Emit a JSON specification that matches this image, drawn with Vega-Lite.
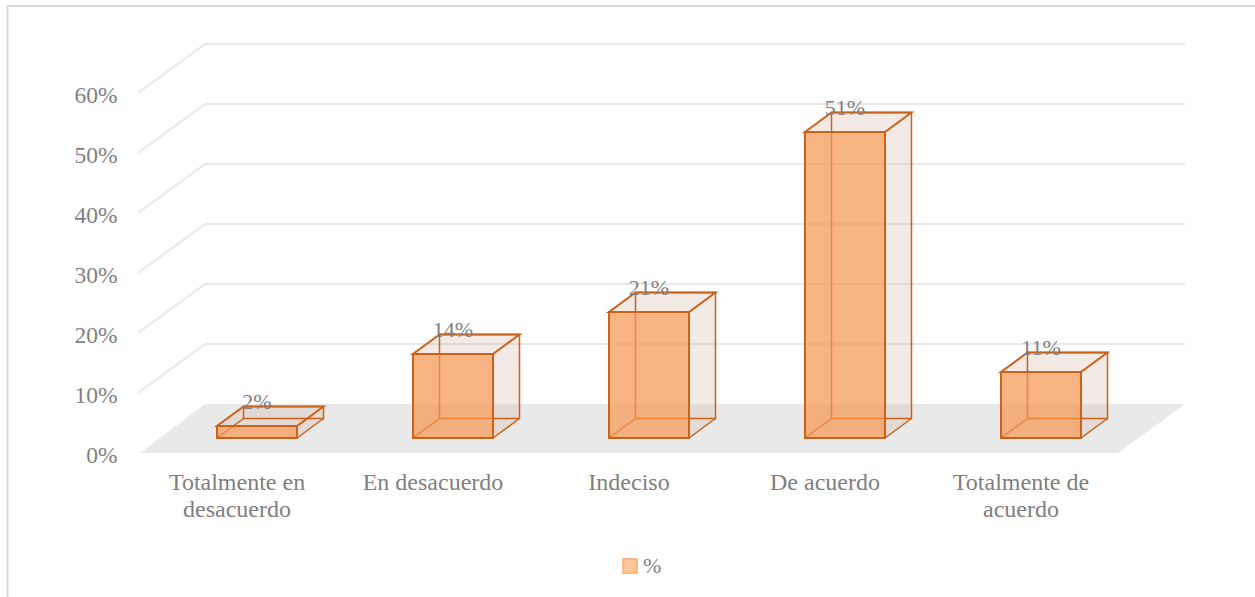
{
  "$schema": "https://vega.github.io/schema/vega-lite/v6.json",
  "width": 978,
  "height": 360,
  "autosize": {"type": "none"},
  "padding": {"left": 160, "top": 78, "right": 117, "bottom": 159},
  "background": "white",
  "config": {"view": {"stroke": null}, "font": "Liberation Serif"},
  "datasets": {
    "bars": [
      {"categoria": "Totalmente en desacuerdo", "pct": 0.02},
      {"categoria": "En desacuerdo", "pct": 0.14},
      {"categoria": "Indeciso", "pct": 0.21},
      {"categoria": "De acuerdo", "pct": 0.51},
      {"categoria": "Totalmente de acuerdo", "pct": 0.11}
    ],
    "ticks": [{"v": 0.1}, {"v": 0.2}, {"v": 0.3}, {"v": 0.4}, {"v": 0.5}, {"v": 0.6}],
    "anchor": [{"a": 1}]
  },
  "layer": [
    {
      "data": {"name": "bars"},
      "mark": {"type": "bar", "fillOpacity": 0, "strokeOpacity": 0},
      "encoding": {
        "x": {
          "field": "categoria", "type": "nominal", "sort": null, "title": null,
          "scale": {"type": "band", "domain": ["Totalmente en desacuerdo", "En desacuerdo", "Indeciso", "De acuerdo", "Totalmente de acuerdo"], "paddingInner": 0.5918, "paddingOuter": 0.2909},
          "axis": {
            "domain": false, "ticks": false, "tickSize": 0, "grid": false, "offset": 15,
            "labelOffset": -20, "labelPadding": 17, "labelAngle": 0, "labelBaseline": "top",
            "labelFont": "Liberation Serif", "labelFontSize": 24, "labelColor": "#7f7f7f", "labelLineHeight": 27, "labelLimit": 0,
            "labelExpr": "datum.value == 'Totalmente en desacuerdo' ? ['Totalmente en', 'desacuerdo'] : datum.value == 'Totalmente de acuerdo' ? ['Totalmente de', 'acuerdo'] : datum.value"
          }
        },
        "y": {
          "field": "pct", "type": "quantitative", "title": null,
          "scale": {"domain": [0, 0.6]},
          "axis": {
            "domain": false, "ticks": false, "tickSize": 0, "grid": false,
            "values": [0, 0.1, 0.2, 0.3, 0.4, 0.5, 0.6], "format": ".0%",
            "labelPadding": 43, "labelOffset": 17.5,
            "labelFont": "Liberation Serif", "labelFontSize": 23.5, "labelColor": "#7f7f7f"
          }
        },
        "y2": {"datum": 0}
      }
    },
    {
      "data": {"name": "anchor"},
      "mark": {"type": "point", "shape": "M-249.5,170L-249.5,-432L1010,-432", "size": 4, "filled": false, "stroke": "#d9d9d9", "strokeWidth": 2, "opacity": 1},
      "encoding": {
        "x": {"datum": "Totalmente en desacuerdo", "type": "nominal", "title": null},
        "y": {"datum": 0, "type": "quantitative", "title": null}
      }
    },
    {
      "data": {"name": "anchor"},
      "mark": {"type": "point", "shape": "M-117,15L861,15L928,-34L-52,-34Z", "size": 4, "filled": true, "fill": "#e9e9e9", "opacity": 1},
      "encoding": {
        "x": {"datum": "Totalmente en desacuerdo", "type": "nominal", "title": null},
        "y": {"datum": 0, "type": "quantitative", "title": null}
      }
    },
    {
      "data": {"name": "ticks"},
      "mark": {"type": "point", "shape": "M-119,15L-52,-34L928,-34", "size": 4, "filled": false, "stroke": "#e8e8e8", "strokeWidth": 2, "opacity": 1},
      "encoding": {
        "x": {"datum": "Totalmente en desacuerdo", "type": "nominal", "title": null},
        "y": {"field": "v", "type": "quantitative", "title": null}
      }
    },
    {
      "data": {"name": "bars"},
      "mark": {"type": "bar", "width": 26.5, "xOffset": 53.25, "yOffset": -19.5, "y2Offset": -19.5, "fill": "#d2ad9e", "fillOpacity": 0.27},
      "encoding": {
        "x": {"field": "categoria", "type": "nominal", "title": null},
        "y": {"field": "pct", "type": "quantitative", "title": null},
        "y2": {"datum": 0}
      }
    },
    {
      "data": {"name": "bars"},
      "mark": {"type": "point", "shape": "M-40,0L40,0L40,-19.5L-13.5,-19.5Z", "size": 4, "filled": true, "fill": "#d2ad9e", "fillOpacity": 0.27, "opacity": 1},
      "encoding": {
        "x": {"field": "categoria", "type": "nominal", "title": null},
        "y": {"field": "pct", "type": "quantitative", "title": null}
      }
    },
    {
      "data": {"name": "bars"},
      "mark": {"type": "point", "shape": "M40,0L40,-19.5L66.5,-19.5Z", "size": 4, "filled": true, "fill": "#d2ad9e", "fillOpacity": 0.27, "opacity": 1},
      "encoding": {
        "x": {"field": "categoria", "type": "nominal", "title": null},
        "y": {"datum": 0, "type": "quantitative", "title": null}
      }
    },
    {
      "data": {"name": "bars"},
      "mark": {"type": "bar", "xOffset": 26.5, "yOffset": -19.5, "y2Offset": -19.5, "fill": "white", "fillOpacity": 0, "stroke": "#cc6218", "strokeWidth": 1.5},
      "encoding": {
        "x": {"field": "categoria", "type": "nominal", "title": null},
        "y": {"field": "pct", "type": "quantitative", "title": null},
        "y2": {"datum": 0}
      }
    },
    {
      "data": {"name": "bars"},
      "mark": {"type": "point", "shape": "M-40,0L40,0L66.5,-19.5L-13.5,-19.5Z", "size": 4, "filled": false, "stroke": "#cc6218", "strokeWidth": 2, "opacity": 1},
      "encoding": {
        "x": {"field": "categoria", "type": "nominal", "title": null},
        "y": {"field": "pct", "type": "quantitative", "title": null}
      }
    },
    {
      "data": {"name": "bars"},
      "mark": {"type": "point", "shape": "M-40,0L-13.5,-19.5M40,0L66.5,-19.5", "size": 4, "filled": false, "stroke": "#cc6218", "strokeWidth": 1.5, "opacity": 1},
      "encoding": {
        "x": {"field": "categoria", "type": "nominal", "title": null},
        "y": {"datum": 0, "type": "quantitative", "title": null}
      }
    },
    {
      "data": {"name": "bars"},
      "mark": {"type": "bar", "fill": "#f6944e", "fillOpacity": 0.7, "stroke": "#cc6218", "strokeWidth": 2},
      "encoding": {
        "x": {"field": "categoria", "type": "nominal", "title": null},
        "y": {"field": "pct", "type": "quantitative", "title": null},
        "y2": {"datum": 0}
      }
    },
    {
      "data": {"name": "anchor"},
      "transform": [{"filter": "datum.a > 1"}],
      "mark": {"type": "bar", "fill": "#fcc698", "stroke": "#f6ad72", "strokeWidth": 1.5, "opacity": 1},
      "encoding": {
        "color": {
          "datum": "%", "type": "nominal",
          "scale": {"range": ["#fcc698"]},
          "legend": {
            "orient": "none", "legendX": 459, "legendY": 477, "title": null,
            "symbolType": "square", "symbolSize": 196, "padding": 0, "labelOffset": 2,
            "labelFont": "Liberation Serif", "labelFontSize": 22, "labelColor": "#7f7f7f"
          }
        }
      }
    },
    {
      "data": {"name": "bars"},
      "mark": {"type": "text", "baseline": "alphabetic", "align": "center", "dy": -17.5, "font": "Liberation Serif", "fontSize": 22, "fill": "#7f7f7f"},
      "encoding": {
        "x": {"field": "categoria", "type": "nominal", "title": null},
        "y": {"field": "pct", "type": "quantitative", "title": null},
        "text": {"field": "pct", "type": "quantitative", "format": ".0%"}
      }
    }
  ]
}
